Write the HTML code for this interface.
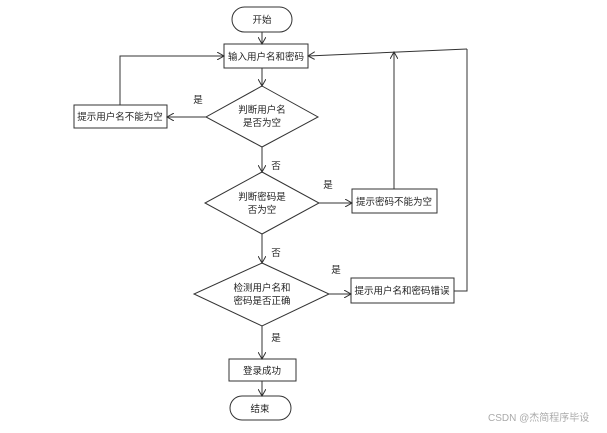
<!DOCTYPE html>
<html><head><meta charset="utf-8"><style>
body{margin:0;background:#fff}
svg text{font-family:"Liberation Sans","Noto Sans CJK SC",sans-serif;font-size:9.5px;fill:#222}
</style></head><body>
<svg width="607" height="428" viewBox="0 0 607 428" xmlns="http://www.w3.org/2000/svg">
<defs><marker id="a" markerWidth="8" markerHeight="8" refX="7" refY="4" orient="auto" markerUnits="userSpaceOnUse"><path d="M0,0 L7,4 L0,8" fill="none" stroke="#333" stroke-width="1"/></marker></defs>
<g fill="#fff" stroke="#333" stroke-width="1">
<rect x="232" y="7" width="60" height="25" rx="12.5"/>
<rect x="224" y="44" width="84" height="24"/>
<rect x="74" y="105" width="93" height="23"/>
<polygon points="262,86 318,117 262,147 206,117"/>
<polygon points="262,172 319,203 262,234 205,203"/>
<rect x="352" y="189" width="85" height="24"/>
<polygon points="262,263 329,294 262,326 194,294"/>
<rect x="351" y="278" width="103" height="25"/>
<rect x="229" y="359" width="67" height="22"/>
<rect x="230" y="396" width="61" height="24" rx="12"/>
</g>
<g fill="none" stroke="#333" stroke-width="1">
<line x1="262" y1="32" x2="262" y2="44" marker-end="url(#a)"/>
<line x1="262" y1="68" x2="262" y2="86" marker-end="url(#a)"/>
<line x1="206" y1="117" x2="167" y2="117" marker-end="url(#a)"/>
<polyline points="120,105 120,56 224,56" marker-end="url(#a)"/>
<line x1="262" y1="147" x2="262" y2="172" marker-end="url(#a)"/>
<line x1="319" y1="203" x2="352" y2="203" marker-end="url(#a)"/>
<line x1="394" y1="189" x2="394" y2="52" marker-end="url(#a)"/>
<line x1="262" y1="234" x2="262" y2="263" marker-end="url(#a)"/>
<line x1="329" y1="294" x2="351" y2="294" marker-end="url(#a)"/>
<polyline points="454,291 467,291 467,49"/>
<line x1="467" y1="49" x2="308" y2="56" marker-end="url(#a)"/>
<line x1="262" y1="326" x2="262" y2="359" marker-end="url(#a)"/>
<line x1="262" y1="381" x2="262" y2="396" marker-end="url(#a)"/>
</g>
<g text-anchor="middle">
<text x="262" y="23">开始</text>
<text x="266" y="60">输入用户名和密码</text>
<text x="120" y="120">提示用户名不能为空</text>
<text x="262" y="113">判断用户名</text>
<text x="262" y="126">是否为空</text>
<text x="262" y="200">判断密码是</text>
<text x="262" y="213">否为空</text>
<text x="394" y="205">提示密码不能为空</text>
<text x="262" y="291">检测用户名和</text>
<text x="262" y="304">密码是否正确</text>
<text x="402" y="294">提示用户名和密码错误</text>
<text x="262" y="374">登录成功</text>
<text x="260" y="412">结束</text>
<text x="198" y="103">是</text>
<text x="276" y="169">否</text>
<text x="328" y="188">是</text>
<text x="276" y="256">否</text>
<text x="336" y="273">是</text>
<text x="276" y="341">是</text>
</g>
<text x="488" y="421" style="fill:#aaa;font-size:10px">CSDN @杰简程序毕设</text>
</svg>
</body></html>
